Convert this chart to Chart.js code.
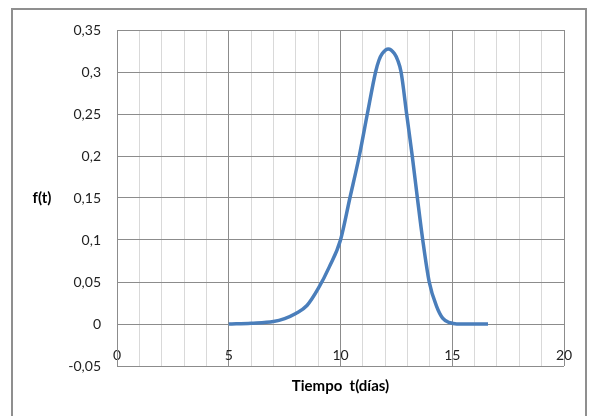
<!DOCTYPE html>
<html>
<head>
<meta charset="utf-8">
<script src="https://cdn.jsdelivr.net/npm/chart.js@4/dist/chart.umd.min.js"></script>
<style>
  body { margin: 0; background: #fff; }
  #frame {
    position: absolute; left: 11px; top: 8px;
    width: 576px; height: 430px;
    border: 2px solid #8f8f8f; box-sizing: border-box;
  }
  #wrap { position: absolute; left: 0; top: 0; width: 590px; height: 416px; }
</style>
</head>
<body>
<div id="frame"></div>
<div id="wrap"><canvas id="chart" width="590" height="416"></canvas></div>
<script>
// values
const tDias = [5, 6, 7, 7.5, 8, 8.5, 9, 9.5, 10, 10.42, 10.84, 11.2, 11.57, 11.72, 11.87, 12.14, 12.41, 12.56, 12.71, 12.96, 13.21, 13.44, 13.68, 13.97, 14.3, 14.57, 14.9, 15.2, 16, 16.6];
const fValores = [0, 0.001, 0.003, 0.0065, 0.0125, 0.022, 0.042, 0.068, 0.1, 0.15, 0.2, 0.25, 0.3, 0.314, 0.322, 0.3275, 0.322, 0.314, 0.3, 0.25, 0.2, 0.15, 0.1, 0.05, 0.021, 0.007, 0.0015, 0, 0, 0];
const xMarcas = [0, 5, 10, 15, 20];
const yTicks = [-0.05, 0, 0.05, 0.1, 0.15, 0.2, 0.25, 0.3, 0.35];

const puntos = tDias.map((t, i) => ({ x: t, y: fValores[i] }));

const fuente = 'Lato, "Open Sans", sans-serif';
const grisFuerte = '#8c8c8c';
const grisSuave = '#d9d9d9';

// Excel-style axis titles: "f(t)" horizontal beside the y axis, time title under the plot
const titulos = {
    id: 'titulos',
    afterDraw(chart) {
        const ctx = chart.ctx;
        const area = chart.chartArea;
        ctx.save();
        ctx.font = 'bold 15px ' + fuente;
        ctx.fillStyle = '#000';
        ctx.textAlign = 'center';
        ctx.textBaseline = 'middle';
        ctx.fillText('f(t)', 42, (area.top + area.bottom) / 2);
        ctx.fillText('Tiempo  t(días)', (area.left + area.right) / 2, area.bottom + 20);
        ctx.restore();
    }
};

new Chart(document.getElementById('chart'), {
    type: 'scatter',
    data: {
        datasets: [{
            label: 'f(t)',
            data: puntos,
            showLine: true,
            borderColor: '#4a7ebb',
            borderWidth: 3.5,
            pointRadius: 0,
            cubicInterpolationMode: 'monotone',
            fill: false
        }]
    },
    options: {
        responsive: false,
        animation: false,
        layout: { padding: { top: 30, right: 26, left: 0, bottom: 50 } },
        plugins: {
            legend: { display: false },
            tooltip: { enabled: false }
        },
        scales: {
            x: {
                type: 'linear',
                position: { y: 0 },
                min: 0,
                max: 20,
                afterBuildTicks: (s) => {
                    s.ticks = [];
                    for (let v = 0; v <= 20; v++) s.ticks.push({ value: v });
                },
                // drop the extra room Chart.js keeps for the last label
                afterFit: (s) => { s.paddingLeft = 0; s.paddingRight = 0; },
                border: { color: grisFuerte, width: 1 },
                grid: {
                    drawTicks: false,
                    color: (c) => (xMarcas.includes(c.tick.value) ? grisFuerte : grisSuave),
                    lineWidth: 1
                },
                ticks: {
                    autoSkip: false,
                    maxRotation: 0,
                    padding: 23,
                    color: '#222',
                    font: { family: fuente, size: 14 },
                    // empty string (not null) so the minor grid lines stay visible
                    callback: (v) => (xMarcas.includes(v) ? String(v) : '')
                }
            },
            y: {
                min: yTicks[0],
                max: yTicks[yTicks.length - 1],
                afterFit: (s) => { s.width = 117; },
                afterBuildTicks: (s) => { s.ticks = yTicks.map((v) => ({ value: v })); },
                border: { color: grisFuerte, width: 1 },
                grid: { drawTicks: false, color: grisFuerte, lineWidth: 1 },
                ticks: {
                    padding: 16,
                    color: '#222',
                    font: { family: fuente, size: 14 },
                    callback: (v) => String(Math.round(v * 100) / 100).replace('.', ',')
                }
            }
        }
    },
    plugins: [titulos]
});
</script>
</body>
</html>
